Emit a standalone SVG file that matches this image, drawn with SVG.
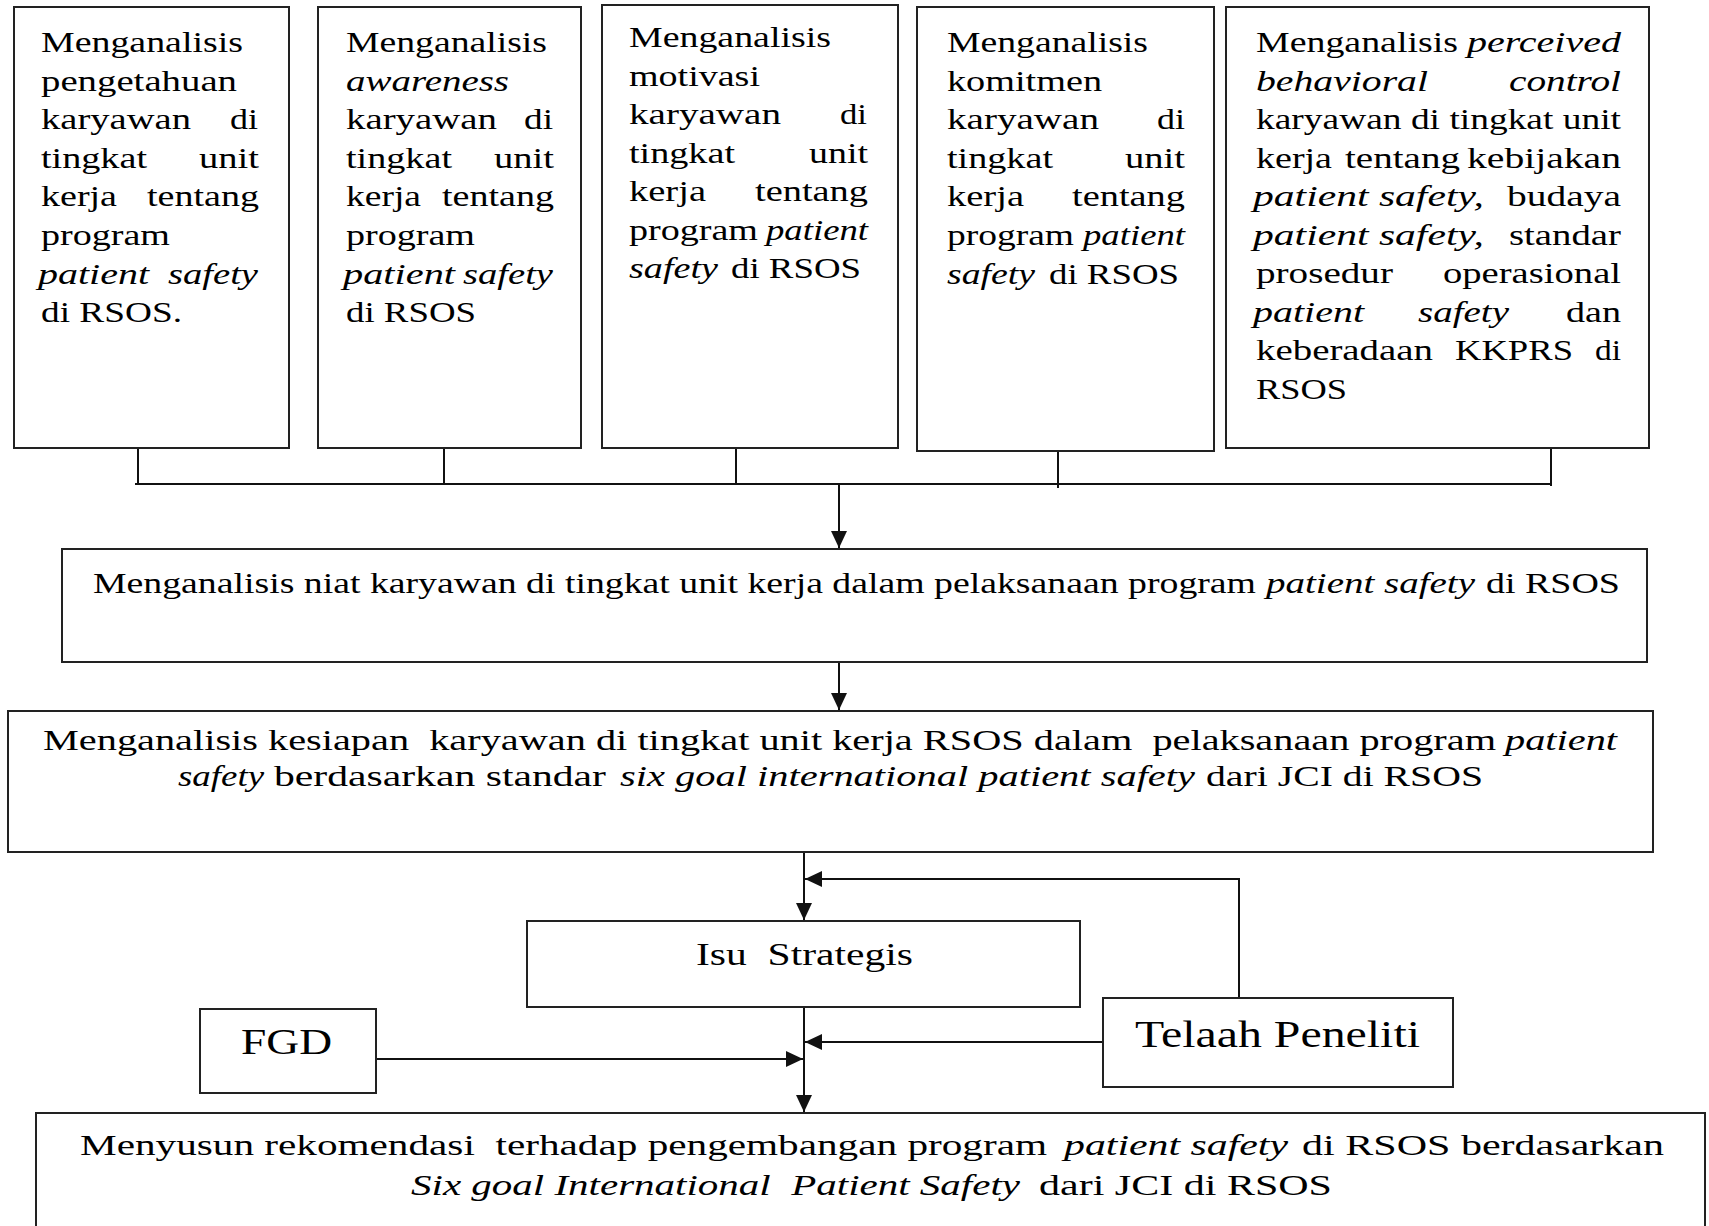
<svg xmlns="http://www.w3.org/2000/svg" width="1709" height="1226" viewBox="0 0 1709 1226">
<style>
.box{fill:#fff;stroke:#222;stroke-width:2}
.t{font-family:"Liberation Serif","Times New Roman",serif;font-size:30px;fill:#000}
.i{font-style:italic}
.ln{fill:none;stroke:#111;stroke-width:2}
.pre{white-space:pre}
</style>
<defs>
<marker id="ah" markerUnits="userSpaceOnUse" markerWidth="18" markerHeight="16" refX="17" refY="8" orient="auto">
<path d="M0,0 L17,8 L0,16 z" fill="#111"/>
</marker>
</defs>
<rect width="1709" height="1226" fill="#fff"/>

<g id="connectors">
<path class="ln" d="M138,448 V484 M444,448 V484 M736,448 V484 M1058,451 V488 M1551,448 V486 M135,484 H1551"/>
<path class="ln" d="M839,484 V548" marker-end="url(#ah)"/>
<path class="ln" d="M839,662 V710" marker-end="url(#ah)"/>
<path class="ln" d="M804,852 V920" marker-end="url(#ah)"/>
<path class="ln" d="M1239,999 V879 H805" marker-end="url(#ah)"/>
<path class="ln" d="M804,1007 V1112" marker-end="url(#ah)"/>
<path class="ln" d="M376,1059 H803" marker-end="url(#ah)"/>
<path class="ln" d="M1103,1042 H805" marker-end="url(#ah)"/>
</g>

<g id="node-pengetahuan">
<rect class="box" x="14" y="7" width="275" height="441"/>
<text class="t" y="52"><tspan x="41" textLength="202" lengthAdjust="spacingAndGlyphs">Menganalisis</tspan></text>
<text class="t" y="90.6"><tspan x="41" textLength="196" lengthAdjust="spacingAndGlyphs">pengetahuan</tspan></text>
<text class="t" y="129.2"><tspan x="41" textLength="150" lengthAdjust="spacingAndGlyphs">karyawan</tspan> <tspan x="230" textLength="28" lengthAdjust="spacingAndGlyphs">di</tspan></text>
<text class="t" y="167.8"><tspan x="41" textLength="106" lengthAdjust="spacingAndGlyphs">tingkat</tspan> <tspan x="199" textLength="60" lengthAdjust="spacingAndGlyphs">unit</tspan></text>
<text class="t" y="206.4"><tspan x="41" textLength="76" lengthAdjust="spacingAndGlyphs">kerja</tspan> <tspan x="147" textLength="112" lengthAdjust="spacingAndGlyphs">tentang</tspan></text>
<text class="t" y="245"><tspan x="41" textLength="129" lengthAdjust="spacingAndGlyphs">program</tspan></text>
<text class="t i" y="283.6"><tspan x="38" textLength="111" lengthAdjust="spacingAndGlyphs">patient</tspan> <tspan x="168" textLength="90" lengthAdjust="spacingAndGlyphs">safety</tspan></text>
<text class="t" y="322.2"><tspan x="41" textLength="141" lengthAdjust="spacingAndGlyphs">di RSOS.</tspan></text>
</g>

<g id="node-awareness">
<rect class="box" x="318" y="7" width="263" height="441"/>
<text class="t" y="52"><tspan x="346" textLength="201" lengthAdjust="spacingAndGlyphs">Menganalisis</tspan></text>
<text class="t i" y="90.6"><tspan x="346" textLength="163" lengthAdjust="spacingAndGlyphs">awareness</tspan></text>
<text class="t" y="129.2"><tspan x="346" textLength="151" lengthAdjust="spacingAndGlyphs">karyawan</tspan> <tspan x="524" textLength="29" lengthAdjust="spacingAndGlyphs">di</tspan></text>
<text class="t" y="167.8"><tspan x="346" textLength="106" lengthAdjust="spacingAndGlyphs">tingkat</tspan> <tspan x="494" textLength="60" lengthAdjust="spacingAndGlyphs">unit</tspan></text>
<text class="t" y="206.4"><tspan x="346" textLength="75" lengthAdjust="spacingAndGlyphs">kerja</tspan> <tspan x="442" textLength="112" lengthAdjust="spacingAndGlyphs">tentang</tspan></text>
<text class="t" y="245"><tspan x="346" textLength="129" lengthAdjust="spacingAndGlyphs">program</tspan></text>
<text class="t i" y="283.6"><tspan x="343" textLength="112" lengthAdjust="spacingAndGlyphs">patient</tspan> <tspan x="463" textLength="90" lengthAdjust="spacingAndGlyphs">safety</tspan></text>
<text class="t" y="322.2"><tspan x="346" textLength="130" lengthAdjust="spacingAndGlyphs">di RSOS</tspan></text>
</g>

<g id="node-motivasi">
<rect class="box" x="602" y="5" width="296" height="443"/>
<text class="t" y="47"><tspan x="629" textLength="202" lengthAdjust="spacingAndGlyphs">Menganalisis</tspan></text>
<text class="t" y="85.5"><tspan x="629" textLength="131" lengthAdjust="spacingAndGlyphs">motivasi</tspan></text>
<text class="t" y="124"><tspan x="629" textLength="152" lengthAdjust="spacingAndGlyphs">karyawan</tspan> <tspan x="840" textLength="27" lengthAdjust="spacingAndGlyphs">di</tspan></text>
<text class="t" y="162.5"><tspan x="629" textLength="106" lengthAdjust="spacingAndGlyphs">tingkat</tspan> <tspan x="809" textLength="59" lengthAdjust="spacingAndGlyphs">unit</tspan></text>
<text class="t" y="201"><tspan x="629" textLength="77" lengthAdjust="spacingAndGlyphs">kerja</tspan> <tspan x="755" textLength="113" lengthAdjust="spacingAndGlyphs">tentang</tspan></text>
<text class="t" y="239.5"><tspan x="629" textLength="129" lengthAdjust="spacingAndGlyphs">program</tspan> <tspan class="i" x="766" textLength="102" lengthAdjust="spacingAndGlyphs">patient</tspan></text>
<text class="t" y="278"><tspan class="i" x="629" textLength="89" lengthAdjust="spacingAndGlyphs">safety</tspan> <tspan x="731" textLength="130" lengthAdjust="spacingAndGlyphs">di RSOS</tspan></text>
</g>

<g id="node-komitmen">
<rect class="box" x="917" y="7" width="297" height="444"/>
<text class="t" y="52"><tspan x="947" textLength="201" lengthAdjust="spacingAndGlyphs">Menganalisis</tspan></text>
<text class="t" y="90.6"><tspan x="947" textLength="155" lengthAdjust="spacingAndGlyphs">komitmen</tspan></text>
<text class="t" y="129.2"><tspan x="947" textLength="152" lengthAdjust="spacingAndGlyphs">karyawan</tspan> <tspan x="1157" textLength="28" lengthAdjust="spacingAndGlyphs">di</tspan></text>
<text class="t" y="167.8"><tspan x="947" textLength="106" lengthAdjust="spacingAndGlyphs">tingkat</tspan> <tspan x="1125" textLength="60" lengthAdjust="spacingAndGlyphs">unit</tspan></text>
<text class="t" y="206.4"><tspan x="947" textLength="77" lengthAdjust="spacingAndGlyphs">kerja</tspan> <tspan x="1072" textLength="113" lengthAdjust="spacingAndGlyphs">tentang</tspan></text>
<text class="t" y="245"><tspan x="947" textLength="127" lengthAdjust="spacingAndGlyphs">program</tspan> <tspan class="i" x="1083" textLength="102" lengthAdjust="spacingAndGlyphs">patient</tspan></text>
<text class="t" y="283.6"><tspan class="i" x="947" textLength="88" lengthAdjust="spacingAndGlyphs">safety</tspan> <tspan x="1049" textLength="130" lengthAdjust="spacingAndGlyphs">di RSOS</tspan></text>
</g>

<g id="node-pbc">
<rect class="box" x="1226" y="7" width="423" height="441"/>
<text class="t" y="52"><tspan x="1256" textLength="202" lengthAdjust="spacingAndGlyphs">Menganalisis</tspan> <tspan class="i" x="1467" textLength="154" lengthAdjust="spacingAndGlyphs">perceived</tspan></text>
<text class="t i" y="90.5"><tspan x="1256" textLength="172" lengthAdjust="spacingAndGlyphs">behavioral</tspan> <tspan x="1509" textLength="112" lengthAdjust="spacingAndGlyphs">control</tspan></text>
<text class="t" y="129"><tspan x="1256" textLength="365" lengthAdjust="spacingAndGlyphs">karyawan di tingkat unit</tspan></text>
<text class="t" y="167.5"><tspan x="1256" textLength="76" lengthAdjust="spacingAndGlyphs">kerja</tspan> <tspan x="1345" textLength="115" lengthAdjust="spacingAndGlyphs">tentang</tspan> <tspan x="1467" textLength="154" lengthAdjust="spacingAndGlyphs">kebijakan</tspan></text>
<text class="t" y="206"><tspan class="i" x="1253" textLength="231" lengthAdjust="spacingAndGlyphs">patient safety,</tspan> <tspan x="1507" textLength="114" lengthAdjust="spacingAndGlyphs">budaya</tspan></text>
<text class="t" y="244.5"><tspan class="i" x="1253" textLength="231" lengthAdjust="spacingAndGlyphs">patient safety,</tspan> <tspan x="1509" textLength="112" lengthAdjust="spacingAndGlyphs">standar</tspan></text>
<text class="t" y="283"><tspan x="1256" textLength="137" lengthAdjust="spacingAndGlyphs">prosedur</tspan> <tspan x="1443" textLength="178" lengthAdjust="spacingAndGlyphs">operasional</tspan></text>
<text class="t" y="321.5"><tspan class="i" x="1253" textLength="111" lengthAdjust="spacingAndGlyphs">patient</tspan> <tspan class="i" x="1418" textLength="91" lengthAdjust="spacingAndGlyphs">safety</tspan> <tspan x="1566" textLength="55" lengthAdjust="spacingAndGlyphs">dan</tspan></text>
<text class="t" y="360"><tspan x="1256" textLength="177" lengthAdjust="spacingAndGlyphs">keberadaan</tspan> <tspan x="1455" textLength="118" lengthAdjust="spacingAndGlyphs">KKPRS</tspan> <tspan x="1595" textLength="26" lengthAdjust="spacingAndGlyphs">di</tspan></text>
<text class="t" y="398.5"><tspan x="1256" textLength="91" lengthAdjust="spacingAndGlyphs">RSOS</tspan></text>
</g>

<g id="node-niat">
<rect class="box" x="62" y="549" width="1585" height="113"/>
<text class="t" y="593"><tspan x="93" textLength="1163" lengthAdjust="spacingAndGlyphs">Menganalisis niat karyawan di tingkat unit kerja dalam pelaksanaan program</tspan> <tspan class="i" x="1266" textLength="209" lengthAdjust="spacingAndGlyphs">patient safety</tspan> <tspan x="1486" textLength="134" lengthAdjust="spacingAndGlyphs">di RSOS</tspan></text>
</g>

<g id="node-kesiapan">
<rect class="box" x="8" y="711" width="1645" height="141"/>
<text class="t pre" y="750"><tspan x="43" textLength="1453" lengthAdjust="spacingAndGlyphs">Menganalisis kesiapan  karyawan di tingkat unit kerja RSOS dalam  pelaksanaan program</tspan> <tspan class="i" x="1505" textLength="112" lengthAdjust="spacingAndGlyphs">patient</tspan></text>
<text class="t" y="786"><tspan class="i" x="178" textLength="86" lengthAdjust="spacingAndGlyphs">safety</tspan> <tspan x="274" textLength="332" lengthAdjust="spacingAndGlyphs">berdasarkan standar</tspan> <tspan class="i" x="620" textLength="575" lengthAdjust="spacingAndGlyphs">six goal international patient safety</tspan> <tspan x="1206" textLength="277" lengthAdjust="spacingAndGlyphs">dari JCI di RSOS</tspan></text>
</g>

<g id="node-isu">
<rect class="box" x="527" y="921" width="553" height="86"/>
<text class="t pre" y="965" style="font-size:32px"><tspan x="696" textLength="217" lengthAdjust="spacingAndGlyphs">Isu  Strategis</tspan></text>
</g>

<g id="node-fgd">
<rect class="box" x="200" y="1009" width="176" height="84"/>
<text class="t" y="1054" style="font-size:36px"><tspan x="241" textLength="91" lengthAdjust="spacingAndGlyphs">FGD</tspan></text>
</g>

<g id="node-telaah">
<rect class="box" x="1103" y="998" width="350" height="89"/>
<text class="t" y="1047" style="font-size:37px"><tspan x="1135" textLength="285" lengthAdjust="spacingAndGlyphs">Telaah Peneliti</tspan></text>
</g>

<g id="node-rekomendasi">
<rect class="box" x="36" y="1113" width="1669" height="140"/>
<text class="t pre" y="1155"><tspan x="80" textLength="967" lengthAdjust="spacingAndGlyphs">Menyusun rekomendasi  terhadap pengembangan program</tspan> <tspan class="i" x="1064" textLength="224" lengthAdjust="spacingAndGlyphs">patient safety</tspan> <tspan x="1302" textLength="362" lengthAdjust="spacingAndGlyphs">di RSOS berdasarkan</tspan></text>
<text class="t pre" y="1195"><tspan class="i" x="411" textLength="609" lengthAdjust="spacingAndGlyphs">Six goal International  Patient Safety</tspan> <tspan x="1039" textLength="293" lengthAdjust="spacingAndGlyphs">dari JCI di RSOS</tspan></text>
</g>
</svg>
